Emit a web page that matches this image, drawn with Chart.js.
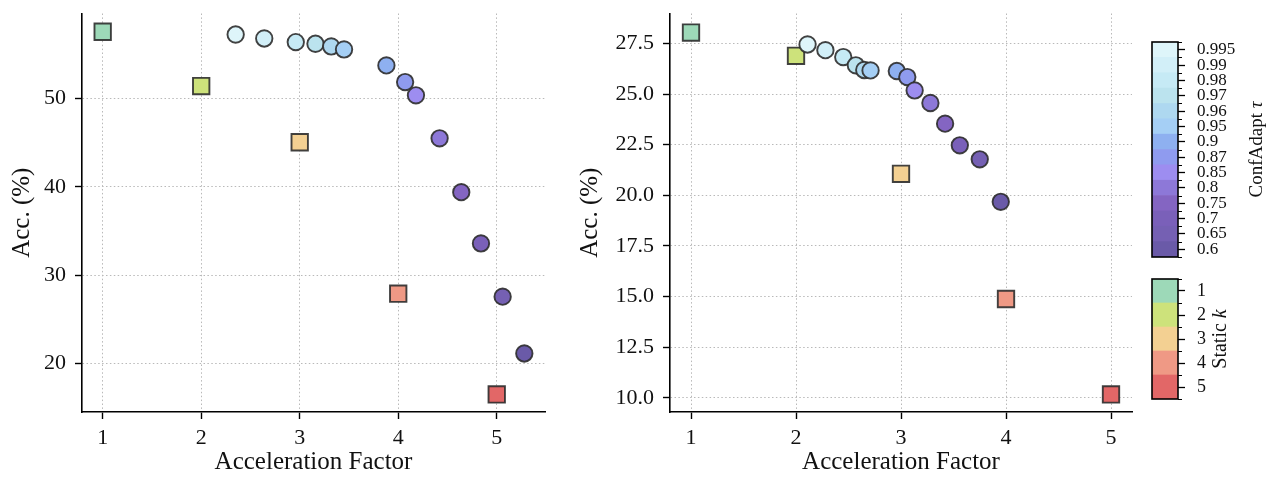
<!DOCTYPE html>
<html>
<head>
<meta charset="utf-8">
<title>Accuracy vs. acceleration: ConfAdapt and static k</title>
<script src="https://cdn.jsdelivr.net/npm/chart.js@4.4.1/dist/chart.umd.min.js"></script>
<style>
  html, body { margin: 0; padding: 0; background: #fff; }
  #fig { position: relative; width: 1267px; height: 478px; overflow: hidden; }
  canvas { position: absolute; }
</style>
</head>
<body>
<div id="fig">
  <canvas id="panelLeft"  width="580" height="478" style="left:0px;top:0px"></canvas>
  <canvas id="panelRight" width="575" height="478" style="left:572px;top:0px"></canvas>
  <canvas id="barTau"     width="120" height="270" style="left:1147px;top:0px"></canvas>
  <canvas id="barK"       width="120" height="150" style="left:1147px;top:270px"></canvas>
</div>
<script>
// ---- data -------------------------------------------------------------
const accelTicks = [1, 2, 3, 4, 5];

// ConfAdapt thresholds, from the most conservative to the most aggressive
const tauLevels = ['0.995', '0.99', '0.98', '0.97', '0.96', '0.95', '0.9', '0.87', '0.85', '0.8', '0.75', '0.7', '0.65', '0.6'];
const tauColors = ['#def5fa', '#d2eff8', '#c6eaf5', '#bbe3ee', '#aed8f0', '#a5cff5', '#8eb0f0', '#8f9bef', '#9d8df0', '#8d78d8', '#8465c2', '#7a60b9', '#7560b3', '#6a5aa8'];

// static speculation length k
const staticK = [1, 2, 3, 4, 5];
const kColors = ['#9dd9b8', '#cde27b', '#f3d092', '#ef9985', '#e26767'];

// left panel
const leftStaticAcc  = [57.58, 51.43, 45.06, 27.91, 16.49];
const leftAdaptSpeed = [2.35, 2.64, 2.96, 3.16, 3.32, 3.45, 3.88, 4.07, 4.18, 4.42, 4.64, 4.84, 5.06, 5.28];
const leftAdaptAcc   = [57.27, 56.82, 56.41, 56.22, 55.92, 55.58, 53.77, 51.88, 50.38, 45.51, 39.41, 33.60, 27.57, 21.13];
const leftYTicks     = [20, 30, 40, 50];

// right panel
const rightStaticAcc  = [28.04, 26.89, 21.06, 14.88, 10.17];
const rightAdaptSpeed = [2.11, 2.28, 2.45, 2.57, 2.65, 2.71, 2.96, 3.06, 3.13, 3.28, 3.42, 3.56, 3.75, 3.95];
const rightAdaptAcc   = [27.45, 27.17, 26.83, 26.42, 26.19, 26.17, 26.14, 25.84, 25.18, 24.56, 23.54, 22.47, 21.78, 19.68];
const rightYTicks     = [10, 12.5, 15, 17.5, 20, 22.5, 25, 27.5];

// ---- styling ----------------------------------------------------------
const SERIF = "'Liberation Serif', 'Times New Roman', serif";
Chart.defaults.font.family = SERIF;
Chart.defaults.color = '#111';

const EDGE = 'rgba(45,45,45,0.9)';
const GRID = '#b9b9b9';
const DOTS = [1.5, 2.4];

// keep the plot area exactly where the layout puts it
function noLabelPadding(s) {
  s.paddingTop = 0; s.paddingBottom = 0; s.paddingLeft = 0; s.paddingRight = 0;
}

function panel(id, o) {
  const staticPts = staticK.map((k, i) => ({ x: k, y: o.staticAcc[i] }));
  const adaptPts  = o.adaptSpeed.map((s, i) => ({ x: s, y: o.adaptAcc[i] }));
  return new Chart(document.getElementById(id), {
    type: 'scatter',
    data: {
      datasets: [
        {
          label: 'ConfAdapt',
          data: adaptPts,
          pointStyle: 'circle',
          pointRadius: 8.2,
          pointBackgroundColor: tauColors,
          pointBorderColor: EDGE,
          pointBorderWidth: 1.9,
          order: 0
        },
        {
          label: 'Static',
          data: staticPts,
          pointStyle: 'rect',
          pointRadius: 11.6,
          pointBackgroundColor: kColors,
          pointBorderColor: EDGE,
          pointBorderWidth: 1.9,
          order: 1
        }
      ]
    },
    options: {
      responsive: false,
      animation: false,
      events: [],
      layout: { padding: { left: 0, top: 13, right: o.padRight, bottom: 0 } },
      plugins: { legend: { display: false }, tooltip: { enabled: false } },
      scales: {
        x: {
          type: 'linear',
          min: o.xMin, max: o.xMax,
          afterBuildTicks: s => { s.ticks = accelTicks.map(v => ({ value: v })); },
          afterFit: s => { s.height = 66; noLabelPadding(s); },
          ticks: { font: { size: 22 }, color: '#111', padding: 6, maxRotation: 0, callback: v => String(v) },
          grid: { color: GRID, lineWidth: 1, tickLength: 7, tickColor: '#000', tickWidth: 1.4, tickBorderDash: [] },
          border: { display: true, color: '#000', width: 1.6, dash: DOTS },
          title: { display: true, text: 'Acceleration Factor', font: { size: 25 }, color: '#111', padding: { top: 0, bottom: 1 } }
        },
        y: {
          type: 'linear',
          min: o.yMin, max: o.yMax,
          afterBuildTicks: s => { s.ticks = o.yTicks.map(v => ({ value: v })); },
          afterFit: s => { s.width = o.axisWidth; noLabelPadding(s); },
          ticks: { font: { size: 22 }, color: '#111', padding: 9, callback: o.fmt },
          grid: { color: GRID, lineWidth: 1, tickLength: 7, tickColor: '#000', tickWidth: 1.4, tickBorderDash: [] },
          border: { display: true, color: '#000', width: 1.6, dash: DOTS },
          title: { display: true, text: 'Acc. (%)', font: { size: 25 }, color: '#111', padding: { top: o.titlePad, bottom: 0 } }
        }
      }
    }
  });
}

panel('panelLeft', {
  staticAcc: leftStaticAcc, adaptSpeed: leftAdaptSpeed, adaptAcc: leftAdaptAcc,
  xMin: 0.79, xMax: 5.49, yMin: 14.5, yMax: 59.65, yTicks: leftYTicks,
  fmt: v => String(v), axisWidth: 82, padRight: 35, titlePad: 7
});

panel('panelRight', {
  staticAcc: rightStaticAcc, adaptSpeed: rightAdaptSpeed, adaptAcc: rightAdaptAcc,
  xMin: 0.8, xMax: 5.2, yMin: 9.3, yMax: 28.98, yTicks: rightYTicks,
  fmt: v => Number(v).toFixed(1), axisWidth: 98, padRight: 15, titlePad: 3
});

// ---- colour bars ------------------------------------------------------
// frame around the bar, short ticks on cell boundaries and a rotated label
function barDecor(label, italicPart, labelX, fontSize) {
  return {
    id: 'barDecor',
    afterDraw(chart) {
      const { ctx, chartArea: a } = chart;
      const y = chart.scales.y;
      ctx.save();
      // boundary ticks
      ctx.strokeStyle = '#000';
      ctx.lineWidth = 1.1;
      ctx.beginPath();
      for (let v = 0; v <= y.max; v++) {
        const py = Math.round(y.getPixelForValue(v)) + 0.5;
        ctx.moveTo(a.right, py);
        ctx.lineTo(a.right + 4, py);
      }
      ctx.stroke();
      // frame
      ctx.lineWidth = 1.6;
      ctx.strokeRect(a.left, a.top, a.right - a.left, a.bottom - a.top);
      // label, read bottom to top
      const plain = `${fontSize}px ${SERIF}`;
      const ital = `italic ${fontSize}px ${SERIF}`;
      ctx.font = plain;
      const w1 = ctx.measureText(label).width;
      ctx.font = ital;
      const w2 = ctx.measureText(italicPart).width;
      ctx.translate(labelX, (a.top + a.bottom) / 2);
      ctx.rotate(-Math.PI / 2);
      ctx.fillStyle = '#111';
      ctx.textBaseline = 'middle';
      ctx.textAlign = 'left';
      const start = -(w1 + w2) / 2;
      ctx.font = plain;
      ctx.fillText(label, start, 0);
      ctx.font = ital;
      ctx.fillText(italicPart, start + w1, 0);
      ctx.restore();
    }
  };
}

function colourBar(id, levels, colours, o) {
  // cells are stacked from the bottom: last level first
  const n = levels.length;
  const bottomUp = levels.map((_, i) => n - 1 - i);
  return new Chart(document.getElementById(id), {
    type: 'bar',
    data: {
      labels: [''],
      datasets: bottomUp.map(i => ({
        label: String(levels[i]),
        data: [1],
        backgroundColor: colours[i],
        borderWidth: 0,
        barPercentage: 1,
        categoryPercentage: 1,
        stack: 'bar'
      }))
    },
    options: {
      responsive: false,
      animation: false,
      events: [],
      layout: { padding: { left: 5, top: o.top, right: 0, bottom: o.bottom } },
      plugins: { legend: { display: false }, tooltip: { enabled: false } },
      scales: {
        x: { display: false, stacked: true },
        y: {
          stacked: true,
          position: 'right',
          min: 0, max: n,
          afterBuildTicks: s => { s.ticks = levels.map((_, j) => ({ value: j + 0.5 })); },
          afterFit: s => { s.width = 89; noLabelPadding(s); },
          ticks: {
            font: { size: o.tickSize }, color: '#111', padding: 12, autoSkip: false,
            callback: v => String(levels[n - 1 - Math.floor(v)])
          },
          grid: { drawOnChartArea: false, tickLength: 7, tickColor: '#000', tickWidth: 1.3 },
          border: { display: false }
        }
      }
    },
    plugins: [barDecor(o.label, o.italic, o.labelX, o.labelSize)]
  });
}

colourBar('barTau', tauLevels, tauColors, {
  top: 42, bottom: 13, tickSize: 17, label: 'ConfAdapt ', italic: 'τ', labelX: 110, labelSize: 19
});
colourBar('barK', staticK, kColors, {
  top: 9, bottom: 21, tickSize: 18, label: 'Static ', italic: 'k', labelX: 74, labelSize: 20
});
</script>
</body>
</html>
